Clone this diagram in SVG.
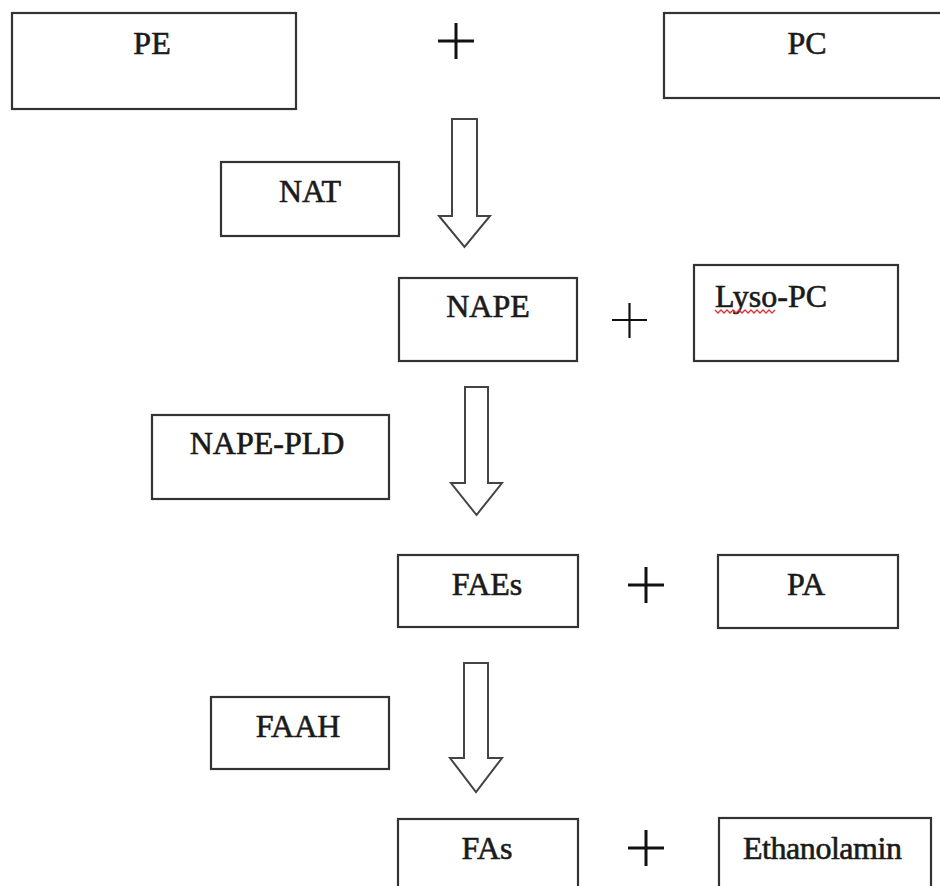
<svg xmlns="http://www.w3.org/2000/svg" width="940" height="886" viewBox="0 0 940 886">
<style>
.box{fill:#fff;stroke:#333;stroke-width:2.2}
.lbl{font-family:"Liberation Serif","Times New Roman",serif;font-size:32px;fill:#1a1a1a;stroke:#1a1a1a;stroke-width:0.6}
.c{text-anchor:middle}
.plus{stroke:#111;stroke-width:3;fill:none}
.arrow{fill:#fff;stroke:#444;stroke-width:2;stroke-linejoin:miter}
</style>
<rect width="940" height="886" fill="#fff"/>
<g id="connectors">
<polygon class="arrow" points="452,119 477,119 477,216 490,216 464.5,247 439,216 452,216"/>
<polygon class="arrow" points="465,387 488,387 488,483 502,483 476.5,515 451,483 465,483"/>
<polygon class="arrow" points="464,663 488,663 488,758 502,758 476,792 450,758 464,758"/>
</g>
<g id="plus-signs">
<path class="plus" d="M438,41H474M456,23V59"/>
<path class="plus" style="stroke-width:2.2" d="M612,320H647M629.5,303V338"/>
<path class="plus" d="M628,585H664M646,567V603"/>
<path class="plus" d="M628,848H664M646,830V866"/>
</g>
<g id="PE"><rect class="box" x="12" y="13" width="284" height="96"/><text class="lbl c" x="152" y="54">PE</text></g>
<g id="PC"><rect class="box" x="664" y="13" width="290" height="85"/><text class="lbl c" x="807" y="54">PC</text></g>
<g id="NAT"><rect class="box" x="221" y="162" width="178" height="74"/><text class="lbl c" x="310" y="202">NAT</text></g>
<g id="NAPE"><rect class="box" x="399" y="278" width="178" height="83"/><text class="lbl c" x="488" y="317">NAPE</text></g>
<g id="Lyso-PC"><rect class="box" x="694" y="265" width="204" height="96"/><text class="lbl" x="715" y="307">Lyso-PC</text>
<path d="M715,310l3,3l3,-3l3,3l3,-3l3,3l3,-3l3,3l3,-3l3,3l3,-3l3,3l3,-3l3,3l3,-3l3,3l3,-3l3,3l3,-3l3,3l3,-3" fill="none" stroke="#e03030" stroke-width="1.3"/></g>
<g id="NAPE-PLD"><rect class="box" x="152" y="415" width="237" height="84"/><text class="lbl c" x="267" y="454">NAPE-PLD</text></g>
<g id="FAEs"><rect class="box" x="398" y="555" width="180" height="72"/><text class="lbl c" x="487" y="595">FAEs</text></g>
<g id="PA"><rect class="box" x="718" y="555" width="180" height="73"/><text class="lbl c" x="806" y="595">PA</text></g>
<g id="FAAH"><rect class="box" x="211" y="697" width="178" height="72"/><text class="lbl c" x="298" y="737">FAAH</text></g>
<g id="FAs"><rect class="box" x="398" y="819" width="180" height="80"/><text class="lbl c" x="487" y="859">FAs</text></g>
<g id="Ethanolamin"><rect class="box" x="719" y="818" width="212" height="80"/><text class="lbl" x="743" y="859" textLength="159">Ethanolamin</text></g>
</svg>
